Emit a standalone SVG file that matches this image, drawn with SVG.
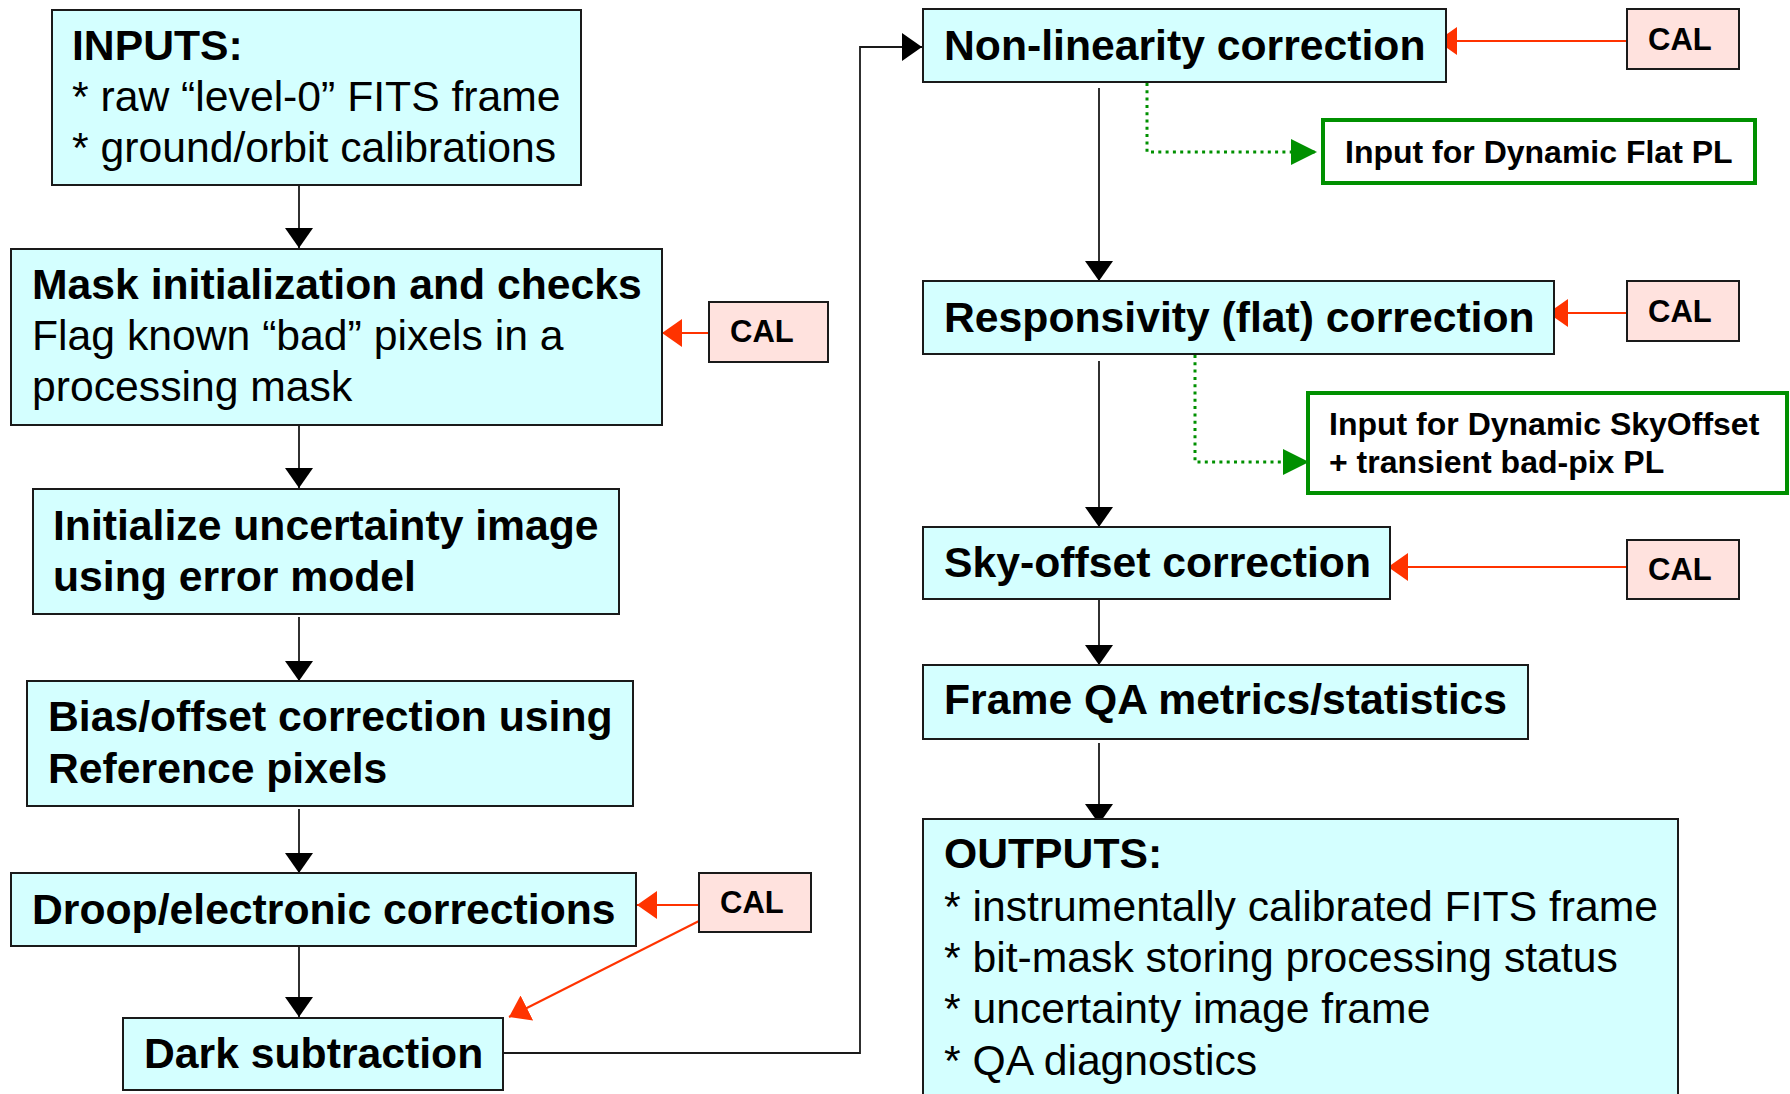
<svg xmlns="http://www.w3.org/2000/svg" width="1790" height="1094" viewBox="0 0 1790 1094">
<defs>
<style>
.box{fill:#d4ffff;stroke:#1a1a1a;stroke-width:2}
.cal{fill:#ffe2de;stroke:#1a1a1a;stroke-width:2}
.gbox{fill:#ffffff;stroke:#009000;stroke-width:4}
.t{font-family:"Liberation Sans",Arial,sans-serif;font-size:42.7px;fill:#000}
.b{font-weight:bold}
.ct{font-family:"Liberation Sans",Arial,sans-serif;font-size:31px;font-weight:bold;fill:#000}
.gt{font-family:"Liberation Sans",Arial,sans-serif;font-size:32px;font-weight:bold;fill:#000}
.blk{fill:none;stroke:#1a1a1a;stroke-width:1.8;marker-end:url(#ab)}
.red{fill:none;stroke:#ff3300;stroke-width:2;marker-end:url(#ar)}
.grn{fill:none;stroke:#009000;stroke-width:3;stroke-dasharray:3 4.3;marker-end:url(#ag)}
</style>
<marker id="ab" markerUnits="userSpaceOnUse" markerWidth="20" markerHeight="28" refX="20" refY="14" orient="auto" viewBox="0 0 20 28"><path d="M0,0 L20,14 L0,28 Z" fill="#000"/></marker>
<marker id="ar" markerUnits="userSpaceOnUse" markerWidth="20" markerHeight="28" refX="20" refY="14" orient="auto" viewBox="0 0 20 28"><path d="M0,0 L20,14 L0,28 Z" fill="#ff3300"/></marker>
<marker id="ag" markerUnits="userSpaceOnUse" markerWidth="26" markerHeight="26" refX="26" refY="13" orient="auto" viewBox="0 0 26 26"><path d="M0,0 L26,13 L0,26 Z" fill="#009000"/></marker>
</defs>
<rect width="1790" height="1094" fill="#ffffff"/>

<g id="connectors">
<line class="blk" x1="299" y1="185" x2="299" y2="248"/>
<line class="blk" x1="299" y1="425" x2="299" y2="488"/>
<line class="blk" x1="299" y1="617" x2="299" y2="681"/>
<line class="blk" x1="299" y1="809" x2="299" y2="873"/>
<line class="blk" x1="299" y1="946" x2="299" y2="1017"/>
<polyline class="blk" points="503,1053 860,1053 860,47 922,47"/>
<line class="blk" x1="1099" y1="88" x2="1099" y2="281"/>
<line class="blk" x1="1099" y1="361" x2="1099" y2="527"/>
<line class="blk" x1="1099" y1="599" x2="1099" y2="665"/>
<line class="blk" x1="1099" y1="743" x2="1099" y2="824"/>
<line class="red" x1="709" y1="333" x2="662" y2="333"/>
<line class="red" x1="699" y1="905" x2="637" y2="905"/>
<line class="red" x1="699" y1="921" x2="509" y2="1017"/>
<line class="red" x1="1627" y1="41" x2="1437" y2="41"/>
<line class="red" x1="1627" y1="313" x2="1548" y2="313"/>
<line class="red" x1="1627" y1="567" x2="1388" y2="567"/>
<polyline class="grn" points="1147,83 1147,152 1317,152"/>
<polyline class="grn" points="1195,355 1195,462 1309,462"/>
</g>

<g id="inputs">
<rect class="box" x="52" y="10" width="529" height="175"/>
<text class="t b" x="72" y="60">INPUTS:</text>
<text class="t" x="72" y="111">* raw “level-0” FITS frame</text>
<text class="t" x="72" y="162">* ground/orbit calibrations</text>
</g>

<g id="mask">
<rect class="box" x="11" y="249" width="651" height="176"/>
<text class="t b" x="32" y="299">Mask initialization and checks</text>
<text class="t" x="32" y="350">Flag known “bad” pixels in a</text>
<text class="t" x="32" y="401">processing mask</text>
</g>

<g id="cal1">
<rect class="cal" x="709" y="302" width="119" height="60"/>
<text class="ct" x="730" y="342">CAL</text>
</g>

<g id="uncertainty">
<rect class="box" x="33" y="489" width="586" height="125"/>
<text class="t b" x="53" y="540">Initialize uncertainty image</text>
<text class="t b" x="53" y="591">using error model</text>
</g>

<g id="bias">
<rect class="box" x="27" y="681" width="606" height="125"/>
<text class="t b" x="48" y="731">Bias/offset correction using</text>
<text class="t b" x="48" y="783">Reference pixels</text>
</g>

<g id="droop">
<rect class="box" x="11" y="873" width="625" height="73"/>
<text class="t b" x="32" y="924">Droop/electronic corrections</text>
</g>

<g id="cal2">
<rect class="cal" x="699" y="873" width="112" height="59"/>
<text class="ct" x="720" y="913">CAL</text>
</g>

<g id="dark">
<rect class="box" x="123" y="1018" width="380" height="72"/>
<text class="t b" x="144" y="1068">Dark subtraction</text>
</g>

<g id="nonlin">
<rect class="box" x="923" y="9" width="523" height="73"/>
<text class="t b" x="944" y="60">Non-linearity correction</text>
</g>

<g id="cal3">
<rect class="cal" x="1627" y="9" width="112" height="60"/>
<text class="ct" x="1648" y="50">CAL</text>
</g>

<g id="dynflat">
<rect class="gbox" x="1323" y="120" width="432" height="63"/>
<text class="gt" x="1345" y="163">Input for Dynamic Flat PL</text>
</g>

<g id="flat">
<rect class="box" x="923" y="281" width="631" height="73"/>
<text class="t b" x="944" y="332">Responsivity (flat) correction</text>
</g>

<g id="cal4">
<rect class="cal" x="1627" y="281" width="112" height="60"/>
<text class="ct" x="1648" y="322">CAL</text>
</g>

<g id="dynsky">
<rect class="gbox" x="1308" y="393" width="479" height="100"/>
<text class="gt" x="1329" y="435">Input for Dynamic SkyOffset</text>
<text class="gt" x="1329" y="473">+ transient bad-pix PL</text>
</g>

<g id="sky">
<rect class="box" x="923" y="527" width="467" height="72"/>
<text class="t b" x="944" y="577">Sky-offset correction</text>
</g>

<g id="cal5">
<rect class="cal" x="1627" y="540" width="112" height="59"/>
<text class="ct" x="1648" y="580">CAL</text>
</g>

<g id="frameqa">
<rect class="box" x="923" y="665" width="605" height="74"/>
<text class="t b" x="944" y="714">Frame QA metrics/statistics</text>
</g>

<g id="outputs">
<rect class="box" x="923" y="819" width="755" height="290"/>
<text class="t b" x="944" y="868">OUTPUTS:</text>
<text class="t" x="944" y="921">* instrumentally calibrated FITS frame</text>
<text class="t" x="944" y="972">* bit-mask storing processing status</text>
<text class="t" x="944" y="1023">* uncertainty image frame</text>
<text class="t" x="944" y="1075">* QA diagnostics</text>
</g>
</svg>
